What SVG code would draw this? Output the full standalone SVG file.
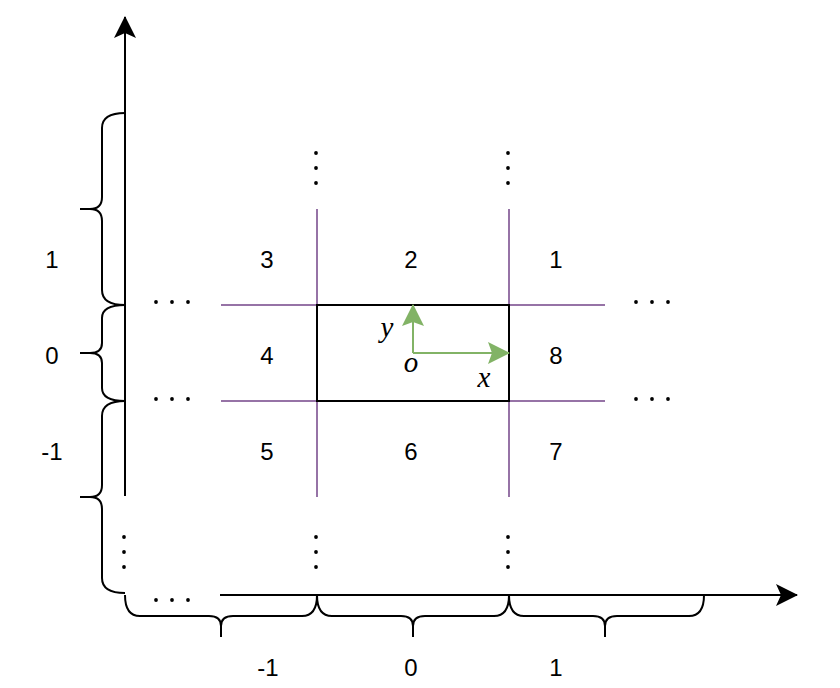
<svg xmlns="http://www.w3.org/2000/svg" width="840" height="688" viewBox="0 0 840 688">
<style>
.ax{stroke:#000;stroke-width:2;fill:none}
.br{stroke:#000;stroke-width:2;fill:none}
.pg{stroke:#9673a6;stroke-width:2;fill:none}
.num{font-family:"Liberation Sans",Arial,sans-serif;font-size:24px;fill:#000;text-anchor:middle;dominant-baseline:central}
.mth{font-family:"Liberation Serif","Times New Roman",serif;font-style:italic;font-size:29px;fill:#000;text-anchor:middle}
.dot{fill:#000}
</style>
<defs>
<marker id="ah" viewBox="0 0 22 22" refX="21" refY="11" markerWidth="22" markerHeight="22" markerUnits="userSpaceOnUse" orient="auto">
<path d="M0,0 L22,11 L0,22 L5,11 Z" fill="#000"/>
</marker>
<marker id="gh" viewBox="0 0 22 22" refX="21" refY="11" markerWidth="22" markerHeight="22" markerUnits="userSpaceOnUse" orient="auto">
<path d="M0,0 L22,11 L0,22 L4,11 Z" fill="#82b366"/>
</marker>
<circle id="d" r="1.9" class="dot"/>
</defs>
<rect width="840" height="688" fill="#fff"/>
<g id="connectors">
<line class="ax" x1="125" y1="496" x2="125" y2="17" marker-end="url(#ah)"/>
<line class="ax" x1="220" y1="595" x2="797" y2="595" marker-end="url(#ah)"/>
</g>
<g id="braces-y">
<path class="br" d="M125,113 Q102,113 102,128 L102,197 Q102,209 90,209 L80,209 M90,209 Q102,209 102,221 L102,290 Q102,305 125,305"/>
<path class="br" d="M125,305 Q102,305 102,318 L102,343 Q102,353 90,353 L80,353 M90,353 Q102,353 102,363 L102,388 Q102,401 125,401"/>
<path class="br" d="M125,401 Q102,401 102,416 L102,485 Q102,497 90,497 L80,497 M90,497 Q102,497 102,509 L102,578 Q102,593 125,593"/>
</g>
<g id="braces-x">
<path class="br" d="M125,595 Q125,616 140,616 L209,616 Q221,616 221,626 L221,637 M221,626 Q221,616 233,616 L302,616 Q317,616 317,595"/>
<path class="br" d="M317,595 Q317,616 332,616 L401,616 Q413,616 413,626 L413,637 M413,626 Q413,616 425,616 L494,616 Q509,616 509,595"/>
<path class="br" d="M509,595 Q509,616 524,616 L593,616 Q605,616 605,626 L605,637 M605,626 Q605,616 617,616 L689,616 Q704,616 704,595"/>
</g>
<g id="grid">
<line class="pg" x1="221" y1="305" x2="605" y2="305"/>
<line class="pg" x1="221" y1="401" x2="605" y2="401"/>
<line class="pg" x1="317" y1="209" x2="317" y2="497"/>
<line class="pg" x1="509" y1="209" x2="509" y2="497"/>
</g>
<g id="origin-cell">
<rect x="317" y="305" width="192" height="96" fill="none" stroke="#000" stroke-width="2"/>
<line x1="413" y1="353" x2="413" y2="305" stroke="#82b366" stroke-width="2" marker-end="url(#gh)"/>
<line x1="413" y1="353" x2="509" y2="353" stroke="#82b366" stroke-width="2" marker-end="url(#gh)"/>
<text class="mth" x="387" y="337">y</text>
<text class="mth" x="411" y="372">o</text>
<text class="mth" x="484" y="387">x</text>
</g>
<g id="cells">
<text class="num" x="267" y="259">3</text>
<text class="num" x="411" y="259">2</text>
<text class="num" x="556" y="259">1</text>
<text class="num" x="267" y="355">4</text>
<text class="num" x="556" y="355">8</text>
<text class="num" x="267" y="451">5</text>
<text class="num" x="411" y="451">6</text>
<text class="num" x="556" y="451">7</text>
</g>
<g id="axis-labels">
<text class="num" x="52" y="259">1</text>
<text class="num" x="52" y="355">0</text>
<text class="num" x="52" y="451">-1</text>
<text class="num" x="268" y="667">-1</text>
<text class="num" x="411" y="667">0</text>
<text class="num" x="556" y="667">1</text>
</g>
<g id="ellipses">
<use href="#d" x="156" y="302"/><use href="#d" x="172" y="302"/><use href="#d" x="188" y="302"/>
<use href="#d" x="156" y="399"/><use href="#d" x="172" y="399"/><use href="#d" x="188" y="399"/>
<use href="#d" x="156" y="600"/><use href="#d" x="172" y="600"/><use href="#d" x="188" y="600"/>
<use href="#d" x="636" y="302"/><use href="#d" x="652" y="302"/><use href="#d" x="668" y="302"/>
<use href="#d" x="636" y="399"/><use href="#d" x="652" y="399"/><use href="#d" x="668" y="399"/>
<use href="#d" x="316" y="153"/><use href="#d" x="316" y="168"/><use href="#d" x="316" y="183"/>
<use href="#d" x="508" y="153"/><use href="#d" x="508" y="168"/><use href="#d" x="508" y="183"/>
<use href="#d" x="316" y="537"/><use href="#d" x="316" y="552"/><use href="#d" x="316" y="567"/>
<use href="#d" x="508" y="537"/><use href="#d" x="508" y="552"/><use href="#d" x="508" y="567"/>
<use href="#d" x="124" y="537"/><use href="#d" x="124" y="552"/><use href="#d" x="124" y="567"/>
</g>
</svg>
